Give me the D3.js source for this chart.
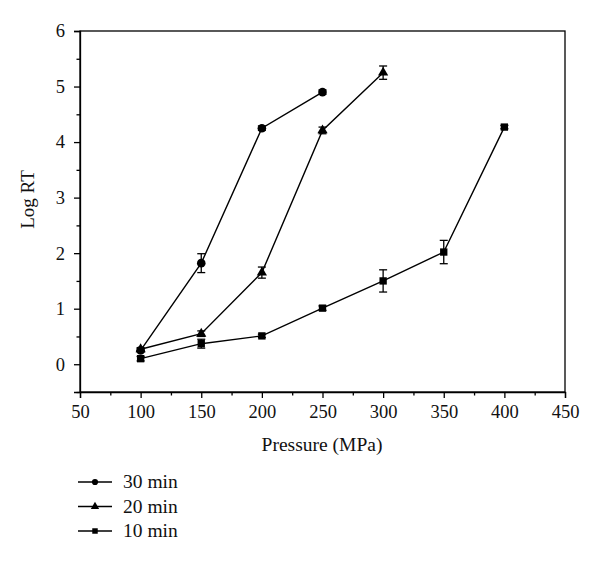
<!DOCTYPE html>
<html><head><meta charset="utf-8">
<script src="https://cdn.jsdelivr.net/npm/d3@7"></script>
<style>body{margin:0;background:#fff}svg{display:block}</style>
</head><body>
<svg id="c" width="600" height="562"></svg>
<script>
const pressures = [100,150,200,250,300,350,400];
const seriesNames = ["30 min","20 min","10 min"];
const symbols = ["circle","triangle","square"];
const val30 = [0.25,1.82,4.25,4.90];
const err30 = [0.03,0.17,0.04,0.04];
const val20 = [0.27,0.55,1.65,4.21,5.25];
const err20 = [0.03,0.05,0.10,0.06,0.12];
const val10 = [0.10,0.37,0.51,1.01,1.50,2.02,4.27];
const err10 = [0.04,0.08,0.03,0.04,0.20,0.21,0.03];
const xTicks = [50,100,150,200,250,300,350,400,450];
const yTicks = [0,1,2,3,4,5,6];

const series = [
  {name:seriesNames[0],sym:symbols[0],vals:val30,errs:err30},
  {name:seriesNames[1],sym:symbols[1],vals:val20,errs:err20},
  {name:seriesNames[2],sym:symbols[2],vals:val10,errs:err10}
];

const svg = d3.select("#c");
const L=80,R=565,T=31,B=392;
const x = d3.scaleLinear().domain([50,450]).range([L,R]);
const y = d3.scaleLinear().domain([-0.5,6]).range([B,T]);
const font = "'Liberation Serif','Times New Roman',serif";

// frame
svg.append("rect").attr("x",L).attr("y",T).attr("width",R-L).attr("height",B-T)
  .attr("fill","none").attr("stroke","#000").attr("stroke-width",1.3);

// x axis
svg.append("g").attr("transform",`translate(0,${B})`)
  .call(d3.axisBottom(x).tickValues(xTicks).tickSize(6).tickPadding(7).tickFormat(d3.format("d")));
svg.append("g").attr("transform",`translate(0,${B})`)
  .call(d3.axisBottom(x).tickValues(d3.range(75,450,50)).tickSize(3.5).tickFormat(""))
  .select(".domain").remove();
// y axis
svg.append("g").attr("transform",`translate(${L},0)`)
  .call(d3.axisLeft(y).tickValues(yTicks).tickSize(6).tickPadding(9).tickFormat(d3.format("d")));
svg.append("g").attr("transform",`translate(${L},0)`)
  .call(d3.axisLeft(y).tickValues(d3.range(-0.5,6,1)).tickSize(3.5).tickFormat(""))
  .select(".domain").remove();
svg.selectAll(".tick line").attr("stroke","#000").attr("stroke-width",1.3);
svg.selectAll(".domain").attr("stroke","#000").attr("stroke-width",1.3);
svg.selectAll(".tick text").attr("font-family",font).attr("font-size",18.5).attr("fill","#111");

// axis titles
svg.append("text").attr("x",322).attr("y",451).attr("text-anchor","middle")
  .attr("font-family",font).attr("font-size",19.5).attr("fill","#111").text("Pressure (MPa)");
svg.append("text").attr("transform",`translate(34,199.5) rotate(-90)`).attr("text-anchor","middle")
  .attr("font-family",font).attr("font-size",19).attr("fill","#111").text("Log RT");

const symMap = {circle:d3.symbolCircle,triangle:d3.symbolTriangle,square:d3.symbolSquare};
const symSize = {circle:58,triangle:45,square:54};

const line = d3.line().x(d=>x(d.p)).y(d=>y(d.v));
series.forEach(s=>{
  const pts = s.vals.map((v,i)=>({p:pressures[i],v:v,e:s.errs[i]}));
  const g = svg.append("g");
  g.append("path").attr("d",line(pts)).attr("fill","none").attr("stroke","#000").attr("stroke-width",1.4);
  pts.forEach(d=>{
    const cx=x(d.p);
    g.append("line").attr("x1",cx).attr("x2",cx).attr("y1",y(d.v-d.e)).attr("y2",y(d.v+d.e)).attr("stroke","#000").attr("stroke-width",1.3);
    [d.v-d.e,d.v+d.e].forEach(e=>g.append("line").attr("x1",cx-4).attr("x2",cx+4).attr("y1",y(e)).attr("y2",y(e)).attr("stroke","#000").attr("stroke-width",1.3));
    g.append("path").attr("d",d3.symbol().type(symMap[s.sym]).size(symSize[s.sym])())
      .attr("transform",`translate(${cx},${y(d.v)})`).attr("fill","#000");
  });
});

// legend
const leg = svg.append("g");
series.forEach((s,i)=>{
  const ly = 482 + i*24.5;
  leg.append("line").attr("x1",78).attr("x2",112).attr("y1",ly).attr("y2",ly).attr("stroke","#000").attr("stroke-width",1.4);
  leg.append("path").attr("d",d3.symbol().type(symMap[s.sym]).size(30)())
    .attr("transform",`translate(95,${ly})`).attr("fill","#000");
  leg.append("text").attr("x",123).attr("y",ly+6).attr("font-family",font).attr("font-size",19.5).attr("fill","#111").text(s.name);
});
</script>
</body></html>
